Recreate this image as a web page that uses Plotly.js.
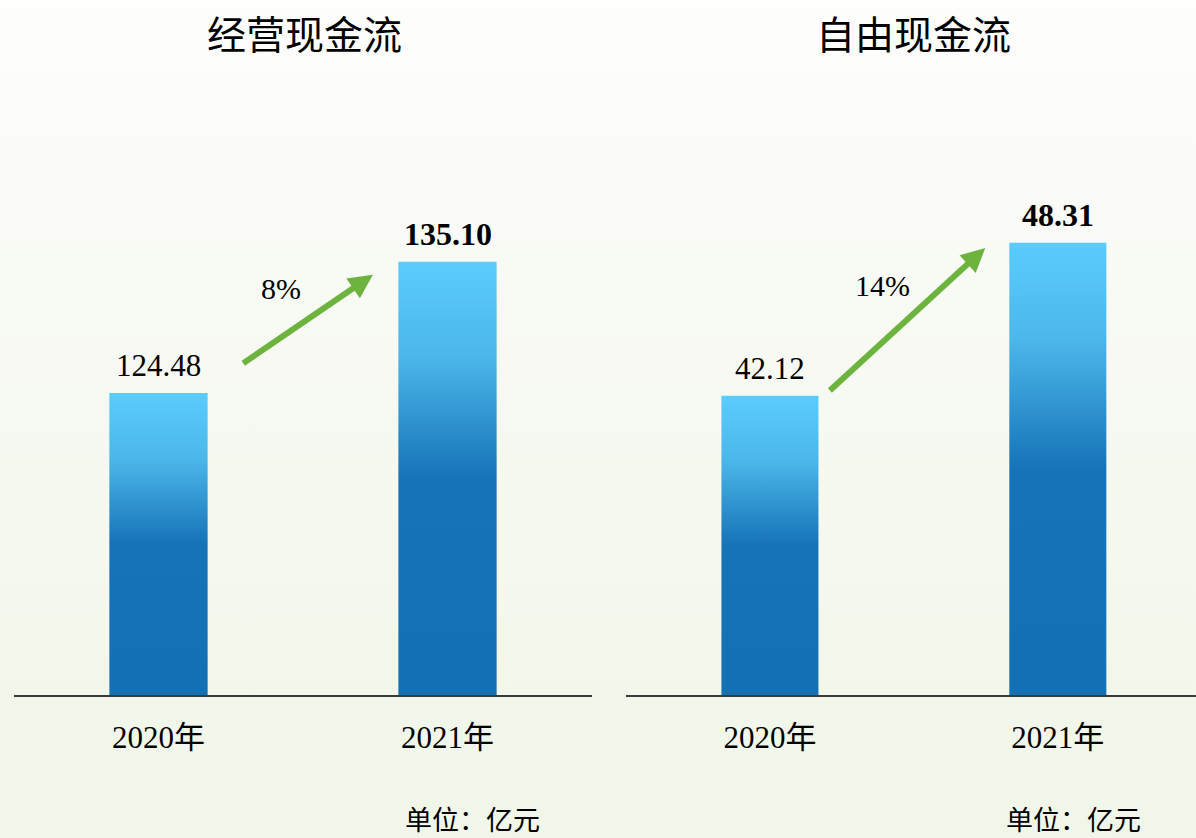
<!DOCTYPE html>
<html>
<head>
<meta charset="utf-8">
<script src="https://cdn.plot.ly/plotly-3.0.1.min.js"></script>
<style>
html,body{margin:0;padding:0;}
body{width:1196px;height:838px;background:linear-gradient(to bottom,#FEFEFD 0%,#F8FAF4 35%,#F0F6E8 100%);}
#chart{width:1196px;height:838px;}
</style>
</head>
<body>
<div id="chart"></div>
<script>
// ---- data ----
const categories = ['2020年', '2021年'];
const operatingCF = [124.48, 135.10];
const freeCF = [42.12, 48.31];
const panelTitles = ['经营现金流', '自由现金流'];
const growthLabels = ['8%', '14%'];
const unitLabel = '单位：亿元';

const serif = 'Liberation Serif, Times New Roman, Noto Sans CJK SC, serif';
const cjk = 'Noto Sans CJK SC, sans-serif';

function fmtLabel(v, i) {
  const s = v.toFixed(2);
  return i === 1 ? '<b>' + s + '</b>' : s;
}

const traces = [
  {type:'bar', x:categories, y:operatingCF, xaxis:'x', yaxis:'y', width:0.34,
   marker:{color:'#1472B6'}, hoverinfo:'skip'},
  {type:'bar', x:categories, y:freeCF, xaxis:'x2', yaxis:'y2', width:0.337,
   marker:{color:'#1472B6'}, hoverinfo:'skip'}
];

const annotations = [];
// value labels
[[operatingCF,'x','y'],[freeCF,'x2','y2']].forEach(([vals,xa,ya]) => {
  vals.forEach((v,i) => {
    annotations.push({xref:xa, yref:ya, x:categories[i], y:v, text:fmtLabel(v,i),
      showarrow:false, xanchor:'center', yanchor:'bottom', yshift:8,
      font:{family:serif, size:i===1?32:31, color:'#000'}});
  });
});
// growth arrows
annotations.push({xref:'x', yref:'y', axref:'x', ayref:'y',
  x:0.742, y:134.05, ax:0.288, ay:126.8, showarrow:true, arrowhead:2, arrowsize:0.8,
  arrowwidth:6, arrowcolor:'#6DB43F', text:''});
annotations.push({xref:'x2', yref:'y2', axref:'x2', ayref:'y2',
  x:0.748, y:48.1, ax:0.203, ay:42.27, showarrow:true, arrowhead:2, arrowsize:0.8,
  arrowwidth:6, arrowcolor:'#6DB43F', text:''});
annotations.push({xref:'x', yref:'y', x:0.423, y:132.98, text:growthLabels[0], showarrow:false,
  xanchor:'center', yanchor:'middle', font:{family:serif, size:30, color:'#000'}});
annotations.push({xref:'x2', yref:'y2', x:0.39, y:46.56, text:growthLabels[1], showarrow:false,
  xanchor:'center', yanchor:'middle', font:{family:serif, size:30, color:'#000'}});
// panel titles
annotations.push({xref:'paper', yref:'paper', x:304/1196, y:1-32/838, text:panelTitles[0], showarrow:false,
  xanchor:'center', yanchor:'middle', font:{family:cjk, size:39, color:'#000'}});
annotations.push({xref:'paper', yref:'paper', x:913/1196, y:1-32/838, text:panelTitles[1], showarrow:false,
  xanchor:'center', yanchor:'middle', font:{family:cjk, size:39, color:'#000'}});
// unit labels
annotations.push({xref:'paper', yref:'paper', x:472/1196, y:1-821/838, text:unitLabel, showarrow:false,
  xanchor:'center', yanchor:'middle', font:{family:serif, size:27, color:'#000'}});
annotations.push({xref:'paper', yref:'paper', x:1073/1196, y:1-821/838, text:unitLabel, showarrow:false,
  xanchor:'center', yanchor:'middle', font:{family:serif, size:27, color:'#000'}});

const yDomain = [(838-695)/838, (838-100)/838];
const xCommon = {type:'category', showline:true, linecolor:'#3a3a3a', linewidth:1.5,
  showgrid:false, zeroline:false, ticks:'', ticklabelstandoff:14,
  tickfont:{family:serif, size:31, color:'#000'}, fixedrange:true};
const yCommon = {visible:false, showgrid:false, zeroline:false, fixedrange:true, domain:yDomain};

const layout = {
  width:1196, height:838,
  margin:{l:0, r:0, t:0, b:0},
  paper_bgcolor:'rgba(0,0,0,0)', plot_bgcolor:'rgba(0,0,0,0)',
  showlegend:false,
  xaxis:Object.assign({}, xCommon, {domain:[14/1196, 592/1196], range:[-0.5, 1.5], anchor:'y'}),
  xaxis2:Object.assign({}, xCommon, {domain:[626/1196, 1], range:[-0.5, 1.48], anchor:'y2'}),
  yaxis:Object.assign({}, yCommon, {range:[100, 100 + 595/12.34], anchor:'x'}),
  yaxis2:Object.assign({}, yCommon, {range:[30, 30 + 595/24.7], anchor:'x2'}),
  annotations:annotations
};

function applyGradient(gd) {
  const svg = gd.querySelector('svg.main-svg');
  const ns = 'http://www.w3.org/2000/svg';
  let defs = svg.querySelector('defs');
  if (!defs) { defs = document.createElementNS(ns,'defs'); svg.insertBefore(defs, svg.firstChild); }
  const fl = gd._fullLayout;
  let n = 0;
  gd.querySelectorAll('.bars .point path').forEach(p => {
    const sub = p.closest('g.subplot');
    const ya = (sub && sub.classList.contains('x2y2')) ? fl.yaxis2 : fl.yaxis;
    const bb = p.getBBox();
    const top = bb.y;
    const bottom = ya._length;
    const id = 'barGrad' + (n++);
    const lg = document.createElementNS(ns,'linearGradient');
    lg.setAttribute('id', id);
    lg.setAttribute('gradientUnits','userSpaceOnUse');
    lg.setAttribute('x1','0'); lg.setAttribute('x2','0');
    lg.setAttribute('y1', String(top)); lg.setAttribute('y2', String(bottom));
    [['0','#5BCCFF'],['0.22','#4BB6EA'],['0.5','#1673B7'],['1','#1270B3']].forEach(([o,c]) => {
      const st = document.createElementNS(ns,'stop');
      st.setAttribute('offset',o); st.setAttribute('stop-color',c);
      lg.appendChild(st);
    });
    defs.appendChild(lg);
    p.style.fill = 'url(#' + id + ')';
  });
}

const gd = document.getElementById('chart');
Plotly.newPlot(gd, traces, layout, {displayModeBar:false, staticPlot:true}).then(() => applyGradient(gd));
</script>
</body>
</html>
